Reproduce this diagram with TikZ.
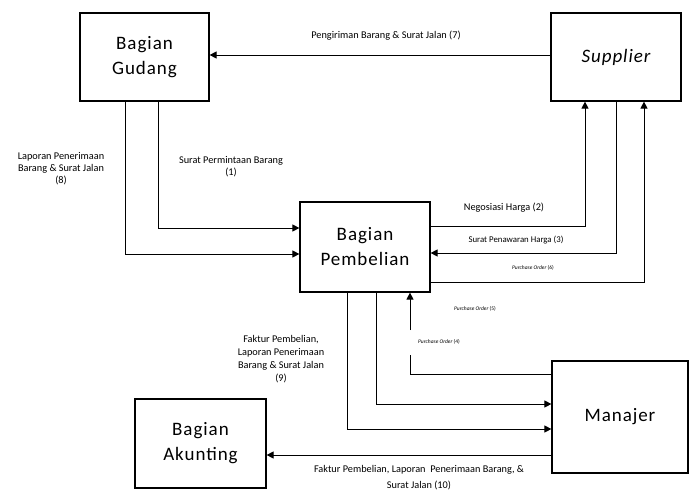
\documentclass[tikz,border=0pt]{standalone}
\usepackage{fontspec}
\setmainfont{Carlito}
\usetikzlibrary{arrows.meta}

\tikzset{
  box/.style={draw, line width=1.2pt, align=center, font=\fontsize{19}{25}\selectfont\addfontfeatures{LetterSpace=5}},
  flow/.style={line width=1pt, -{Triangle[length=7pt,width=7pt]}},
  line/.style={line width=1pt},
  lbl/.style={align=center, inner sep=0pt, font=\fontsize{10.3}{12}\selectfont},
  tiny/.style={lbl, font=\fontsize{5.5}{8}\selectfont\itshape},
}

\begin{document}
\begin{tikzpicture}[x=1pt,y=-1pt]
  \useasboundingbox (0,0) rectangle (689,493);

  \node[box, minimum width=129pt, minimum height=88pt] (gudang)    at (144.5,57)  {Bagian\\Gudang};
  \node[box, minimum width=130pt, minimum height=88pt] (supplier)  at (616,57)    {\itshape Supplier};
  \node[box, minimum width=130pt, minimum height=90pt] (pembelian) at (365,247)   {Bagian\\Pembelian};
  \node[box, minimum width=136pt, minimum height=112pt] (manajer)  at (620,417)   {Manajer};
  \node[box, minimum width=131pt, minimum height=89pt] (akunting)  at (200.5,443.5) {Bagian\\Akunting};

  \coordinate (po4a) at (410,355);
  \coordinate (po4b) at (410,330);

  % supplier / gudang
  \draw[flow] ([yshift=2pt]supplier.west) -- ([yshift=2pt]gudang.east);
  \draw[flow] ([xshift=13.5pt]gudang.south) |- ([yshift=19pt]pembelian.west);
  \draw[flow] ([xshift=-19.5pt]gudang.south) |- ([yshift=-7pt]pembelian.west);

  % pembelian / supplier
  \draw[flow] ([yshift=21pt]pembelian.east) -| ([xshift=-31pt]supplier.south);
  \draw[flow] (supplier.south) |- ([yshift=-6pt]pembelian.east);
  \draw[flow] ([yshift=-35pt]pembelian.east) -| ([xshift=28pt]supplier.south);

  % pembelian / manajer
  \draw[flow] ([xshift=-18pt]pembelian.south) |- ([yshift=-12pt]manajer.west);
  \draw[flow] ([xshift=11pt]pembelian.south) |- ([yshift=13pt]manajer.west);
  \draw[line] ([yshift=43pt]manajer.west) -| (po4a);
  \draw[flow] (po4b) -- ([xshift=45pt]pembelian.south);

  % manajer / akunting
  \draw[flow] ([yshift=-38pt]manajer.west) -- ([yshift=-11.5pt]akunting.east);

  \node[lbl] (l7)  at (386,36)  {Pengiriman Barang \& Surat Jalan (7)};
  \node[lbl] (l1)  at (231,167) {Surat Permintaan Barang\\(1)};
  \node[lbl] (l8)  at (61,169)  {Laporan Penerimaan\\Barang \& Surat Jalan\\(8)};
  \node[lbl] (l2)  at (504,208) {Negosiasi Harga (2)};
  \node[lbl, font=\fontsize{8.8}{10}\selectfont] (l3) at (516,240) {Surat Penawaran Harga (3)};
  \node[tiny] (l6) at (533,268) {Purchase Order \upshape(6)};
  \node[tiny] (l5) at (475,309) {Purchase Order \upshape(5)};
  \node[tiny] (l4) at (439,342) {Purchase Order \upshape(4)};
  \node[lbl, font=\fontsize{10.3}{13}\selectfont] (l9) at (281,359) {Faktur Pembelian,\\Laporan Penerimaan\\Barang \& Surat Jalan\\(9)};
  \node[lbl, font=\fontsize{10.3}{16}\selectfont] (l10) at (419,478) {Faktur Pembelian, Laporan\ \ Penerimaan Barang, \&\\Surat Jalan (10)};
\end{tikzpicture}
\end{document}
